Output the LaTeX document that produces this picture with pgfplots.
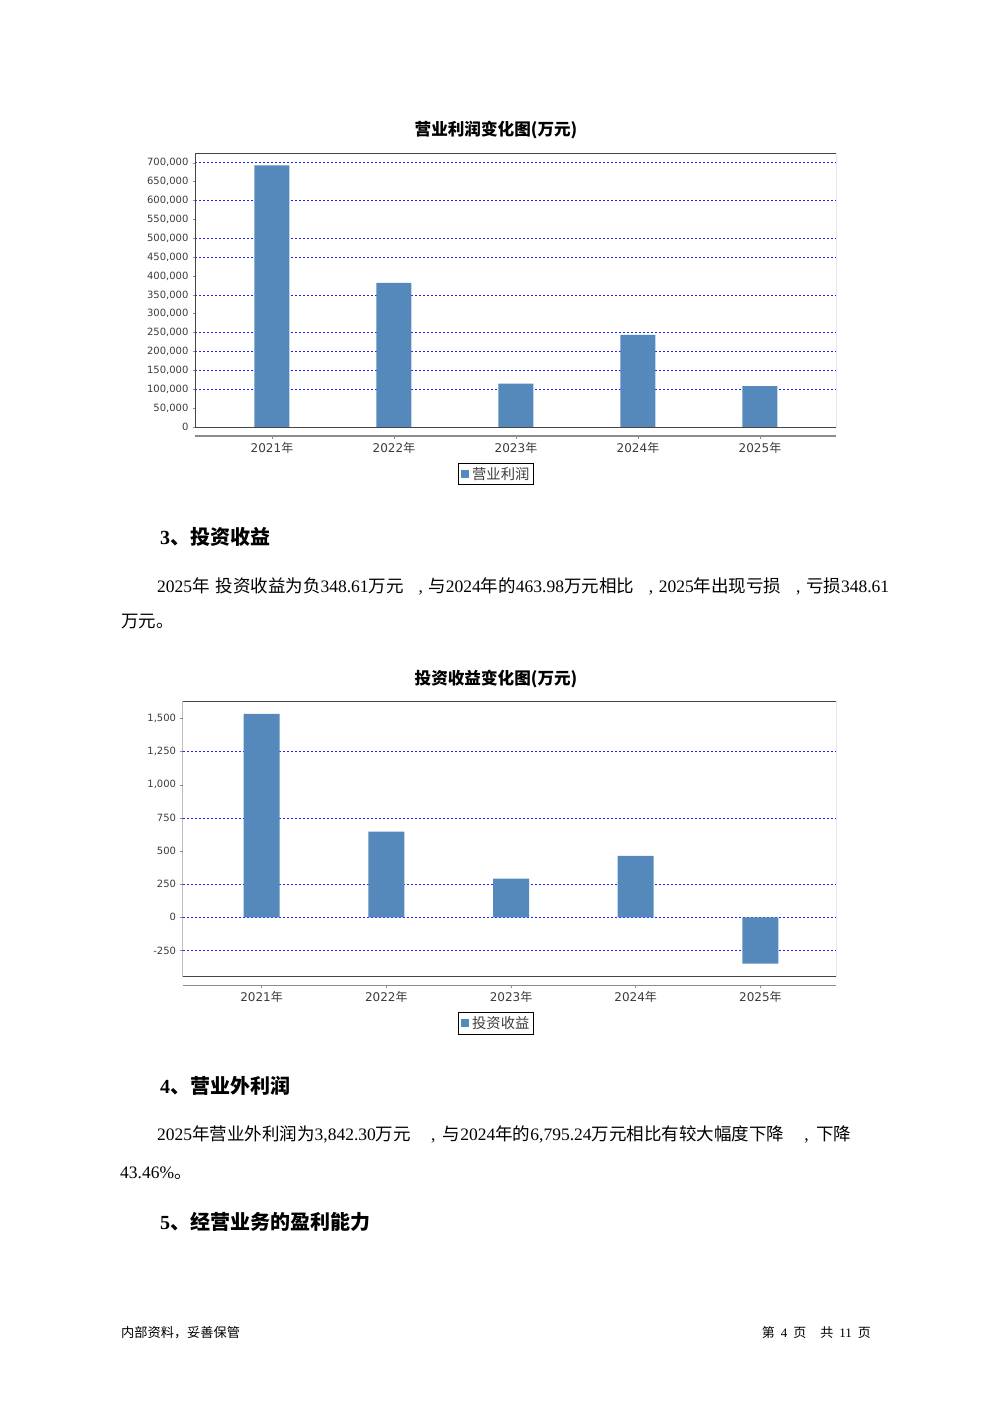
\documentclass[border=0pt]{standalone}
\usepackage{pgfplots}
\pgfplotsset{compat=1.18}
\usepackage{fontspec}
\setmainfont{Liberation Serif}
\newfontfamily\cjk{Noto Sans CJK SC}
\newfontfamily\dv{DejaVu Sans}
\newcommand\cj[1]{{\cjk #1}}
\newcommand\cm{\hskip 2pt plus 1fil,\hskip 1pt plus 0.35fil\relax}
\definecolor{barblue}{RGB}{85,137,188}
\definecolor{gridblue}{RGB}{30,30,255}
\definecolor{axgray}{RGB}{140,140,140}
\definecolor{framegray}{RGB}{70,70,70}
\definecolor{lblgray}{RGB}{60,60,60}
\pgfplotsset{
  mychart/.style={
    scale only axis, anchor=south west,
    axis x line*=bottom, axis y line*=left,
    y axis line style={draw=none},
    x axis line style={draw=axgray, line width=1.3pt},
    tick align=outside, major tick length=2.5pt,
    tick style={draw=axgray, line width=0.6pt},
    xtick={0,1,2,3,4},
    xticklabels={2021{\cjk 年},2022{\cjk 年},2023{\cjk 年},2024{\cjk 年},2025{\cjk 年}},
    xticklabel style={font=\dv\fontsize{12}{12}\selectfont, text=lblgray},
    yticklabel style={font=\dv\fontsize{10}{10}\selectfont, text=lblgray, xshift=-0.5pt},
    scaled y ticks=false,
    /pgf/number format/fixed,
    /pgf/number format/1000 sep={,},
    /pgf/number format/assume math mode=true,
    extra y tick labels={},
    extra y tick style={grid=major},
    major grid style={draw=gridblue, dash pattern=on 2pt off 2pt, line width=0.8pt},
    legend style={anchor=north, draw=black, line width=0.9pt, inner sep=2pt,
      font=\cjk\fontsize{14.3}{14.3}\selectfont, text=lblgray,
      /tikz/every odd column/.append style={column sep=1.5pt}},
    legend image code/.code={\fill[barblue] (0pt,-4pt) rectangle (8pt,4pt);},
  }
}
\begin{document}
\begin{tikzpicture}
\useasboundingbox[fill=white] (0pt,0pt) rectangle (992pt,-1403pt);

% ---------- Chart 1 ----------
\node[font=\cjk\bfseries\fontsize{16.6}{16.6}\selectfont] at (496pt,-130pt) {营业利润变化图(万元)};
\begin{axis}[mychart,
  at={(195pt,-427pt)}, width=641pt, height=274pt,
  xmin=-0.631, xmax=4.623, ymin=0, ymax=726000,
  axis x line shift=9pt,
  ytick={0,50000,...,700000},
  extra y ticks={100000,150000,200000,250000,350000,450000,500000,600000,700000},
  legend style={at={(0.4696,-0.1296)}},
]
\addplot[ybar, bar width=35pt, fill=barblue, draw=none] coordinates {(0,693000) (1,382000) (2,115000) (3,244000) (4,108000)};
\addlegendentry{营业利润}
\draw[framegray, line width=1pt] (rel axis cs:0,0) rectangle (rel axis cs:1,1);
\end{axis}

% ---------- Text section 3 ----------
\node[anchor=west, inner sep=0pt, font=\fontsize{20}{22}\selectfont] at (160pt,-537pt) {{\bfseries 3}\cj{\bfseries 、投资收益}};
\node[anchor=west, inner sep=0pt, font=\fontsize{17.5}{20}\selectfont] at (157pt,-586pt) {\hbox to 732pt{2025\cj{年}\hskip 2pt plus 0.3fil\cj{投资收益为负}348.61\cj{万元}\cm\cj{与}2024\cj{年的}463.98\cj{万元相比}\cm 2025\cj{年出现亏损}\cm\cj{亏损}348.61}};
\node[anchor=west, inner sep=0pt, font=\fontsize{17.5}{20}\selectfont] at (121pt,-622pt) {\cj{万元。}};

% ---------- Chart 2 ----------
\node[font=\cjk\bfseries\fontsize{16.6}{16.6}\selectfont] at (496pt,-679pt) {投资收益变化图(万元)};
\begin{axis}[mychart,
  at={(182.6pt,-976pt)}, width=653.4pt, height=275pt,
  xmin=-0.6335, xmax=4.606, ymin=-443, ymax=1633,
  axis x line shift=9.7pt,
  ytick={-250,0,250,500,750,1000,1250,1500},
  extra y ticks={-250,0,250,750,1250},
  legend style={at={(0.4797,-0.131)}},
]
\addplot[ybar, bar width=36pt, fill=barblue, draw=none] coordinates {(0,1536) (1,647) (2,292) (3,463.98) (4,-348.61)};
\addlegendentry{投资收益}
\draw[framegray, line width=1pt] (rel axis cs:0,0) rectangle (rel axis cs:1,1);
\end{axis}

% ---------- Text section 4 ----------
\node[anchor=west, inner sep=0pt, font=\fontsize{20}{22}\selectfont] at (160pt,-1086pt) {{\bfseries 4}\cj{\bfseries 、营业外利润}};
\node[anchor=west, inner sep=0pt, font=\fontsize{17.5}{20}\selectfont] at (157pt,-1134pt) {\hbox to 694pt{2025\cj{年营业外利润为}3,842.30\cj{万元}\cm\cj{与}2024\cj{年的}6,795.24\cj{万元相比有较大幅度下降}\cm\cj{下降}}};
\node[anchor=west, inner sep=0pt, font=\fontsize{17.5}{20}\selectfont] at (120pt,-1173pt) {43.46\%\cj{。}};
\node[anchor=west, inner sep=0pt, font=\fontsize{20}{22}\selectfont] at (160pt,-1222pt) {{\bfseries 5}\cj{\bfseries 、经营业务的盈利能力}};

% ---------- Footer ----------
\node[anchor=west, inner sep=0pt, font=\cjk\fontsize{13.2}{15}\selectfont] at (121pt,-1333pt) {内部资料，妥善保管};
\node[anchor=east, inner sep=0pt, font=\fontsize{13}{15}\selectfont] at (871pt,-1333pt) {\cj{第}\hskip6pt 4\hskip6pt\cj{页}\hskip14pt\cj{共}\hskip6pt 11\hskip6pt\cj{页}};
\end{tikzpicture}
\end{document}
